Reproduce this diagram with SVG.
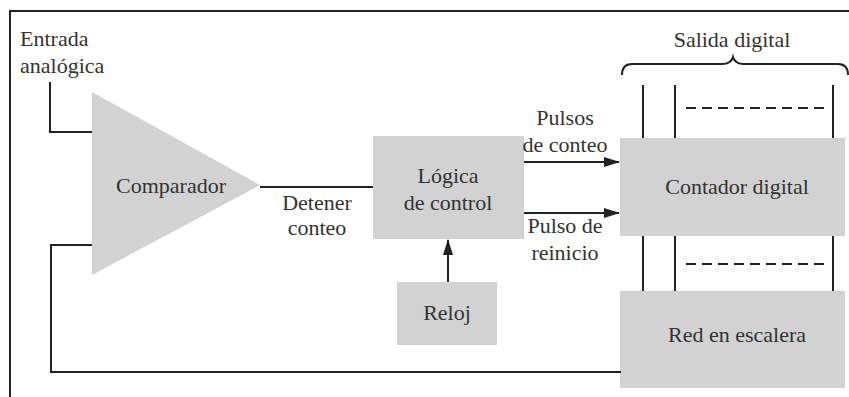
<svg xmlns="http://www.w3.org/2000/svg" width="849" height="397" viewBox="0 0 849 397">
<style>
.dbox{fill:#d2d2d2}
.dwire{fill:none;stroke:#222;stroke-width:2}
.ddash{fill:none;stroke:#222;stroke-width:2;stroke-dasharray:10 6}
</style>
<defs>
<marker id="ah" markerWidth="16" markerHeight="10" refX="15" refY="5" orient="auto" markerUnits="userSpaceOnUse">
<path d="M0,0 L16,5 L0,10 Z" fill="#222"/>
</marker>
</defs>
<rect width="849" height="397" fill="#fff"/>
<path class="dwire" d="M10,397 V11 H849"/>
<g id="entrada"><text font-family="Liberation Serif, serif" font-size="22" fill="#333" x="20" y="46">Entrada</text><text font-family="Liberation Serif, serif" font-size="22" fill="#333" x="20" y="73">analógica</text></g>
<g id="comparador"><polygon class="dbox" points="92,92 260,185 92,275"/><text font-family="Liberation Serif, serif" font-size="22" fill="#333" text-anchor="middle" x="171" y="193">Comparador</text></g>
<g id="logica"><rect class="dbox" x="373" y="136" width="151" height="103"/><text font-family="Liberation Serif, serif" font-size="22" fill="#333" text-anchor="middle" x="448" y="183">Lógica</text><text font-family="Liberation Serif, serif" font-size="22" fill="#333" text-anchor="middle" x="448" y="210">de control</text></g>
<g id="reloj"><rect class="dbox" x="397" y="282" width="100" height="63"/><text font-family="Liberation Serif, serif" font-size="22" fill="#333" text-anchor="middle" x="447" y="320">Reloj</text></g>
<g id="contador"><rect class="dbox" x="620" y="138" width="225" height="98"/><text font-family="Liberation Serif, serif" font-size="22" fill="#333" text-anchor="middle" x="737" y="194">Contador digital</text></g>
<g id="red"><rect class="dbox" x="620" y="291" width="225" height="97"/><text font-family="Liberation Serif, serif" font-size="22" fill="#333" text-anchor="middle" x="737" y="342">Red en escalera</text></g>
<g id="salida"><text font-family="Liberation Serif, serif" font-size="22" fill="#333" text-anchor="middle" x="732" y="47">Salida digital</text>
<path class="dwire" stroke-width="1.8" d="M622,75 Q622,64 632,64 H722 Q731,64 733,57 Q735,64 744,64 H838 Q848,64 848,75"/></g>
<g id="connectors">
<path class="dwire" d="M50,82 V132 H92"/>
<path class="dwire" d="M92,245 H51 V372 H621"/>
<path class="dwire" d="M260,187 H373"/>
<path class="dwire" d="M524,162 H619" marker-end="url(#ah)"/>
<path class="dwire" d="M524,213 H619" marker-end="url(#ah)"/>
<path class="dwire" d="M448,282 V240" marker-end="url(#ah)"/>
<path class="dwire" d="M643,85 V138 M675,85 V138 M833,85 V138 M643,236 V291 M675,236 V291 M833,236 V291"/>
<path class="ddash" d="M686,108 H825 M686,264 H825"/>
</g>
<g id="labels">
<text font-family="Liberation Serif, serif" font-size="22" fill="#333" text-anchor="middle" x="317" y="210">Detener</text><text font-family="Liberation Serif, serif" font-size="22" fill="#333" text-anchor="middle" x="317" y="235">conteo</text>
<text font-family="Liberation Serif, serif" font-size="22" fill="#333" text-anchor="middle" x="565" y="125">Pulsos</text><text font-family="Liberation Serif, serif" font-size="22" fill="#333" text-anchor="middle" x="565" y="152">de conteo</text>
<text font-family="Liberation Serif, serif" font-size="22" fill="#333" text-anchor="middle" x="565" y="233">Pulso de</text><text font-family="Liberation Serif, serif" font-size="22" fill="#333" text-anchor="middle" x="565" y="260">reinicio</text>
</g>
</svg>
